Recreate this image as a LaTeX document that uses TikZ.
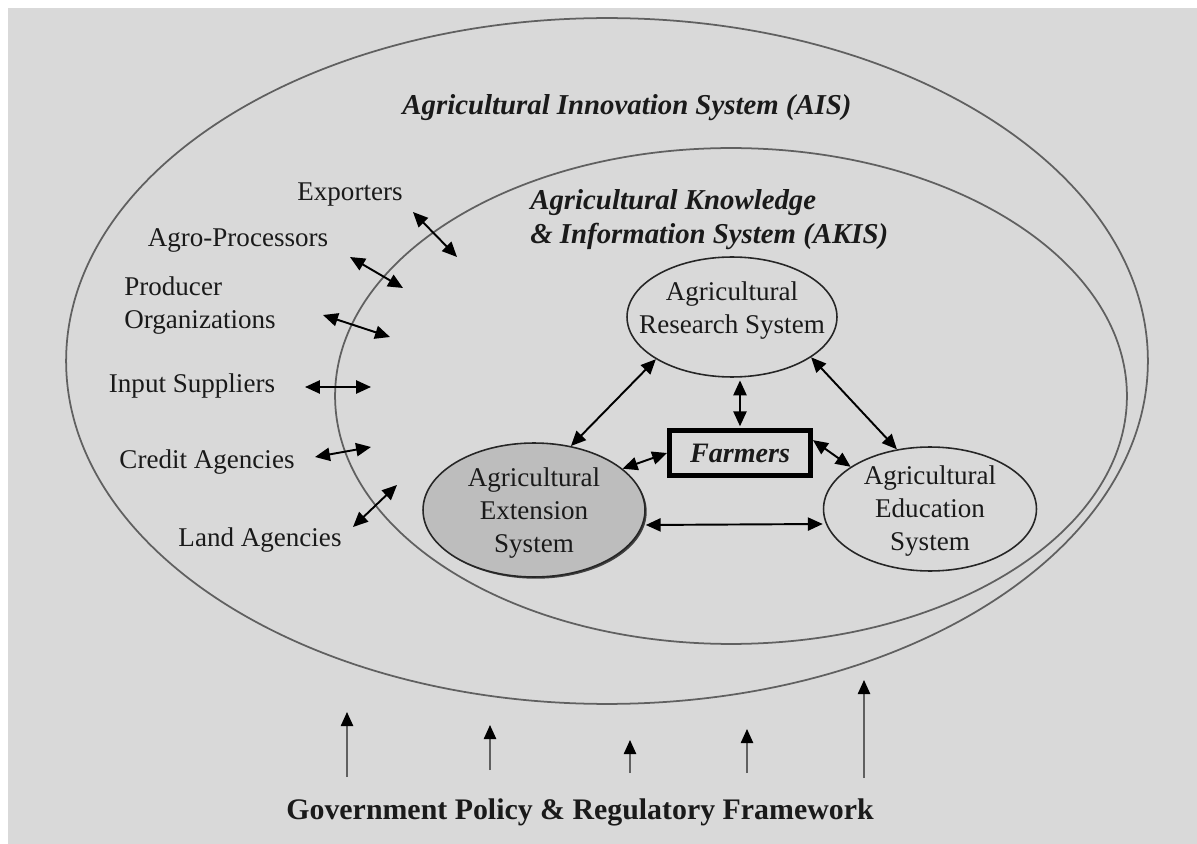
\documentclass[tikz,border=0pt]{standalone}
\usepackage{fontspec}
\setmainfont{Liberation Serif}
\usetikzlibrary{shapes.geometric,arrows.meta,shadows}

\definecolor{bggray}{HTML}{D9D9D9}
\definecolor{rimgray}{HTML}{606060}
\definecolor{extfill}{HTML}{BDBDBD}
\definecolor{inkgray}{HTML}{1A1A1A}

% text of an ellipse, kept out of the shape size
\newcommand{\sysname}[2][0pt]{\raisebox{#1}{\makebox[0pt]{\smash{\begin{tabular}{@{}c@{}}#2\end{tabular}}}}}

\begin{document}
\begin{tikzpicture}[x=0.02cm, y=-0.02cm,
    plain/.style={font=\fontsize{15.4}{18.8}\selectfont, text=inkgray, inner sep=0pt},
    title/.style={font=\fontsize{16.4}{19.3}\selectfont\bfseries\itshape, text=inkgray, inner sep=0pt},
    sysnode/.style={plain, draw=black!85, line width=0.9pt, ellipse},
    biarrow/.style={{Triangle[length=8.5pt,width=7.5pt]}-{Triangle[length=8.5pt,width=7.5pt]}, line width=1.1pt, black},
    govarrow/.style={-{Triangle[black,length=8pt,width=7pt]}, draw=rimgray, line width=0.9pt}]
    % background
    \useasboundingbox (0,0) rectangle (1197,844);
    \fill[bggray] (8,8) rectangle (1197,844);

    % AIS and AKIS boundaries
    \draw[rimgray, line width=1pt] (607,361) ellipse [x radius=10.82cm, y radius=6.86cm];
    \draw[rimgray, line width=1pt] (731,396) ellipse [x radius=7.92cm, y radius=4.96cm];
    \node[title] (ais) at (627,108) {Agricultural Innovation System (AIS)};
    \node[title, anchor=west, align=left] (akis) at (530,220) {Agricultural Knowledge\\\& Information System (AKIS)};

    % core of the AKIS
    \node[sysnode, minimum width=4.2cm, minimum height=2.4cm] (res) at (732,317) {\sysname{Agricultural\\Research System}};
    \node[sysnode, fill=extfill, drop shadow={shadow xshift=1pt, shadow yshift=-1pt, fill=black!75, opacity=1},
          minimum width=4.44cm, minimum height=2.68cm] (ext) at (534,510) {\sysname[-10pt]{Agricultural\\Extension\\System}};
    \node[sysnode, minimum width=4.26cm, minimum height=2.48cm] (edu) at (930,509) {\sysname[-9.5pt]{Agricultural\\Education\\System}};
    \node[draw=black, line width=2.8pt, minimum width=2.82cm, minimum height=0.9cm,
          font=\fontsize{16}{19}\selectfont\bfseries\itshape, text=inkgray] (frm) at (740,453) {Farmers};

    \draw[biarrow] (res.209) -- (ext.60);
    \draw[biarrow, shorten <=1pt, shorten >=1.5pt] (frm.north) -- (frm.north |- res.south);
    \draw[biarrow] (frm.west) -- (ext.25);
    \draw[biarrow] (res.-27) -- (edu.119);
    \draw[biarrow] (frm.10) -- (edu.152);
    \draw[biarrow] ([yshift=-0.3cm]ext.east) -- ([yshift=-0.3cm]edu.west);

    % actors outside the AKIS
    \node[plain] (exporters) at (350,195) {Exporters};
    \node[plain] (agro) at (238,240) {Agro-Processors};
    \node[plain, anchor=west, align=left] (producers) at (124,306) {Producer\\Organizations};
    \node[plain] (inputs) at (192,386) {Input Suppliers};
    \node[plain] (credit) at (207,462) {Credit Agencies};
    \node[plain] (land) at (260,540) {Land Agencies};

    \coordinate (exp a) at (413,212); \coordinate (exp b) at (457,257);
    \coordinate (agr a) at (350,257); \coordinate (agr b) at (403,288);
    \coordinate (pro a) at (323,315); \coordinate (pro b) at (390,337);
    \coordinate (inp a) at (305,387); \coordinate (inp b) at (371,387);
    \coordinate (cre a) at (315,457); \coordinate (cre b) at (371,447);
    \coordinate (lan a) at (353,527); \coordinate (lan b) at (397,485);
    \draw[biarrow] (exp a) -- (exp b);
    \draw[biarrow] (agr a) -- (agr b);
    \draw[biarrow] (pro a) -- (pro b);
    \draw[biarrow] (inp a) -- (inp b);
    \draw[biarrow] (cre a) -- (cre b);
    \draw[biarrow] (lan a) -- (lan b);

    % policy framework below
    \node[font=\fontsize{17}{20}\selectfont\bfseries, text=inkgray, inner sep=0pt] (gov) at (580,812) {Government Policy \& Regulatory Framework};
    \coordinate (g1) at (347,712); \coordinate (g2) at (490,725); \coordinate (g3) at (630,740);
    \coordinate (g4) at (747,729); \coordinate (g5) at (864,680);
    \draw[govarrow] (g1 |- 0,777) -- (g1);
    \draw[govarrow] (g2 |- 0,770) -- (g2);
    \draw[govarrow] (g3 |- 0,773) -- (g3);
    \draw[govarrow] (g4 |- 0,773) -- (g4);
    \draw[govarrow] (g5 |- 0,778) -- (g5);
\end{tikzpicture}
\end{document}
